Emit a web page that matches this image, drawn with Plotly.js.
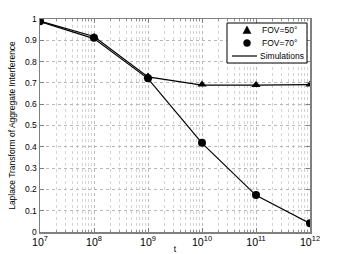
<!DOCTYPE html>
<html>
<head>
<meta charset="utf-8">
<script src="https://cdn.plot.ly/plotly-3.0.1.min.js"></script>
<style>html,body{margin:0;padding:0;background:#fff;}#chart{width:339px;height:254px;}</style>
</head>
<body>
<div id="chart"></div>
<script>
// Data
const tValues = [1e7, 1e8, 1e9, 1e10, 1e11, 1e12];
const fov50Analysis = [0.99, 0.916, 0.73, 0.692, 0.69, 0.692];
const fov70Analysis = [0.99, 0.912, 0.722, 0.419, 0.174, 0.041];
const fov50Simulation = [0.99, 0.918, 0.728, 0.69, 0.69, 0.692];
const fov70Simulation = [0.988, 0.908, 0.72, 0.417, 0.172, 0.04];
const yTickVals = [0, 0.1, 0.2, 0.3, 0.4, 0.5, 0.6, 0.7, 0.8, 0.9, 1];
const yTickText = ['0', '0.1', '0.2', '0.3', '0.4', '0.5', '0.6', '0.7', '0.8', '0.9', '1'];
const legendNames = ['FOV=50°', 'FOV=70°', 'Simulations'];

const fontFam = 'Liberation Sans, Arial, sans-serif';

const traces = [
  {x: tValues, y: fov50Simulation, mode: 'lines', name: legendNames[2], showlegend: false,
   line: {color: '#000', width: 1.2}},
  {x: tValues, y: fov70Simulation, mode: 'lines', name: legendNames[2], showlegend: false,
   line: {color: '#000', width: 1.2}},
  {x: tValues, y: fov50Analysis, mode: 'markers', name: legendNames[0], showlegend: false,
   marker: {symbol: 'triangle-up', size: 8, color: '#000'}},
  {x: tValues, y: fov70Analysis, mode: 'markers', name: legendNames[1], showlegend: false,
   marker: {symbol: 'circle', size: 8, color: '#000'}}
];

// Custom legend box (paper coordinates) to match compact MATLAB legend
const plotL = 40, plotR = 310, plotT = 19, plotB = 232;
const px = v => (v - plotL) / (plotR - plotL);
const py = v => (plotB - v) / (plotB - plotT);
const rowY = [30, 43, 56];
const shapes = [
  {type: 'rect', xref: 'paper', yref: 'paper', x0: px(227), x1: px(307), y0: py(63), y1: py(23),
   line: {color: '#000', width: 1}, fillcolor: '#fff', layer: 'above'},
  {type: 'path', xref: 'paper', yref: 'paper', layer: 'above',
   path: `M ${px(243)} ${py(rowY[0] + 3.5)} L ${px(251)} ${py(rowY[0] + 3.5)} L ${px(247)} ${py(rowY[0] - 4)} Z`,
   fillcolor: '#000', line: {color: '#000', width: 0.5}},
  {type: 'circle', xref: 'paper', yref: 'paper', layer: 'above',
   x0: px(243.5), x1: px(250.5), y0: py(rowY[1] + 3.5), y1: py(rowY[1] - 3.5),
   fillcolor: '#000', line: {color: '#000', width: 0.5}},
  {type: 'line', xref: 'paper', yref: 'paper', layer: 'above',
   x0: px(232), x1: px(257), y0: py(rowY[2]), y1: py(rowY[2]), line: {color: '#000', width: 1.2}}
];
const annotations = legendNames.map((n, i) => ({
  xref: 'paper', yref: 'paper', x: px(i === 2 ? 258 : 260), y: py(rowY[i]),
  xanchor: 'left', yanchor: 'middle', text: n, showarrow: false,
  font: {family: fontFam, size: 8.5, color: '#000'}
}));

const layout = {
  width: 339, height: 254,
  margin: {l: 40, r: 29, t: 19, b: 22, pad: 0},
  paper_bgcolor: '#fff', plot_bgcolor: '#fff',
  font: {family: fontFam, size: 8.5, color: '#000'},
  showlegend: false,
  shapes: shapes,
  annotations: annotations,
  xaxis: {
    type: 'log', range: [7, 12], dtick: 1, exponentformat: 'power',
    showline: true, linecolor: '#808080', linewidth: 1.5, mirror: 'ticks',
    ticks: 'inside', ticklen: 4, tickcolor: '#808080',
    showgrid: true, gridcolor: '#b8b8b8', griddash: 'dot', gridwidth: 1,
    minor: {dtick: 'D1', showgrid: true, gridcolor: '#d4d4d4', griddash: 'dot', ticks: 'inside', ticklen: 2, tickcolor: '#909090'},
    zeroline: false,
    tickfont: {family: fontFam, size: 8.5},
    title: {text: 't', font: {family: fontFam, size: 8.5}, standoff: 2}
  },
  yaxis: {
    range: [0, 1], tickvals: yTickVals, ticktext: yTickText,
    showline: true, linecolor: '#808080', linewidth: 1.5, mirror: 'ticks',
    ticks: 'inside', ticklen: 4, tickcolor: '#808080',
    showgrid: true, gridcolor: '#b8b8b8', griddash: 'dot', gridwidth: 1,
    zeroline: false,
    tickfont: {family: fontFam, size: 8.5},
    title: {text: 'Laplace Transform of Aggregate Interference', font: {family: fontFam, size: 8.5}, standoff: 8}
  }
};

Plotly.newPlot('chart', traces, layout, {displayModeBar: false, staticPlot: true});
</script>
</body>
</html>
